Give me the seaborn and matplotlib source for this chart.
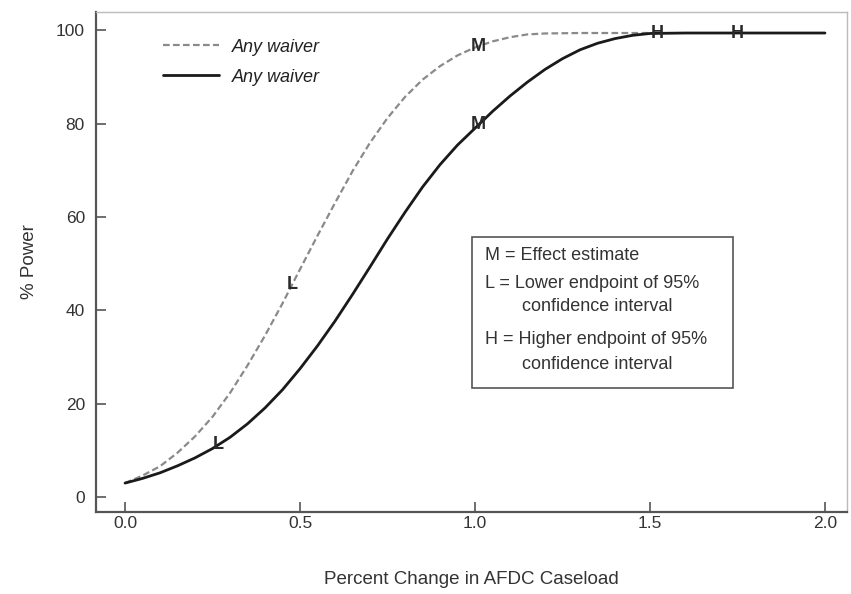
import numpy as np
import pandas as pd
import matplotlib
matplotlib.use("Agg")
import matplotlib.pyplot as plt
import seaborn as sns
from matplotlib.lines import Line2D
from matplotlib.patches import Rectangle

# ---- data ----
x_dashed = [0.0, 0.05, 0.1, 0.15, 0.2, 0.25, 0.3, 0.35, 0.4, 0.45, 0.5, 0.55, 0.6, 0.65,
            0.7, 0.75, 0.8, 0.85, 0.9, 0.95, 1.0, 1.05, 1.1, 1.15, 1.2, 1.3, 1.4, 1.5]
y_dashed = [3.0, 4.6, 6.6, 9.5, 13.0, 17.2, 22.3, 28.2, 34.6, 41.5, 48.8, 56.0, 63.0, 69.8,
            75.9, 81.2, 85.7, 89.4, 92.3, 94.6, 96.3, 97.6, 98.5, 99.1, 99.3, 99.4, 99.4, 99.4]

x_solid = [0.0, 0.05, 0.1, 0.15, 0.2, 0.25, 0.3, 0.35, 0.4, 0.45, 0.5, 0.55, 0.6, 0.65,
           0.7, 0.75, 0.8, 0.85, 0.9, 0.95, 1.0, 1.05, 1.1, 1.15, 1.2, 1.25, 1.3, 1.35,
           1.4, 1.45, 1.5, 1.6, 1.7, 1.8, 1.9, 2.0]
y_solid = [3.0, 4.0, 5.2, 6.7, 8.4, 10.4, 12.8, 15.7, 19.1, 23.0, 27.5, 32.4, 37.7, 43.4,
           49.3, 55.3, 61.0, 66.4, 71.2, 75.4, 79.0, 82.6, 85.9, 88.9, 91.6, 93.9, 95.8, 97.2,
           98.2, 98.9, 99.3, 99.4, 99.4, 99.4, 99.4, 99.4]

# letter markers (L, M, H) positions along x
marker_labels = ["L", "M", "H"]
dashed_marker_x = [0.477, 1.01, 1.52]
solid_marker_x = [0.266, 1.01, 1.75]

legend_labels = ["Any waiver", "Any waiver"]
xticks = [0.0, 0.5, 1.0, 1.5, 2.0]
yticks = [0, 20, 40, 60, 80, 100]
box_lines = ["M = Effect estimate",
             "L = Lower endpoint of 95%",
             "confidence interval",
             "H = Higher endpoint of 95%",
             "confidence interval"]

sns.set_style("white")
plt.rcParams["font.family"] = ["Liberation Sans", "DejaVu Sans"]

fig = plt.figure(figsize=(8.51, 5.94), dpi=100)
ax = fig.add_axes([0.1128, 0.138, 0.8825, 0.8418])

df_d = pd.DataFrame({"x": x_dashed, "y": y_dashed})
df_s = pd.DataFrame({"x": x_solid, "y": y_solid})

sns.lineplot(data=df_d, x="x", y="y", ax=ax, color="#8a8a8a", linewidth=1.6,
             linestyle=(0, (3, 1.5)), zorder=2)
sns.lineplot(data=df_s, x="x", y="y", ax=ax, color="#1a1a1a", linewidth=2.0, zorder=3)

for lab, mx in zip(marker_labels, dashed_marker_x):
    my = float(np.interp(mx, x_dashed, y_dashed))
    ax.text(mx, my, lab, ha="center", va="center", fontsize=13, color="#2a2a2a",
            fontweight="bold", zorder=4)
for lab, mx in zip(marker_labels, solid_marker_x):
    my = float(np.interp(mx, x_solid, y_solid))
    ax.text(mx, my, lab, ha="center", va="center", fontsize=13, color="#2a2a2a",
            fontweight="bold", zorder=4)

ax.set_xlim(-0.083, 2.063)
ax.set_ylim(-3.2, 103.9)
ax.set_xticks(xticks)
ax.set_xticklabels([f"{v:.1f}" for v in xticks])
ax.set_yticks(yticks)
ax.tick_params(bottom=True, left=True, direction="in", length=7, width=1.2,
               colors="#555555", labelsize=12.5, labelcolor="#333333")
ax.tick_params(axis="x", pad=3)
ax.tick_params(axis="y", pad=8)
ax.set_xlabel("Percent Change in AFDC Caseload", fontsize=13.5, color="#333333", labelpad=29)
ax.set_ylabel("% Power", fontsize=13.5, color="#333333", labelpad=13)

for side in ["left", "bottom"]:
    ax.spines[side].set_color("#555555")
    ax.spines[side].set_linewidth(1.6)
for side in ["top", "right"]:
    ax.spines[side].set_color("#bbbbbb")
    ax.spines[side].set_linewidth(1.0)

handles = [Line2D([], [], color="#8a8a8a", linewidth=1.6, linestyle=(0, (3, 1.5))),
           Line2D([], [], color="#1a1a1a", linewidth=2.0)]
leg = ax.legend(handles, legend_labels, loc="upper left", bbox_to_anchor=(0.089, 0.947),
                borderaxespad=0, borderpad=0, frameon=False, handlelength=3.1,
                handletextpad=0.7, labelspacing=0.72,
                prop={"style": "italic", "size": 13})
for t in leg.get_texts():
    t.set_color("#222222")

# text box
ax.add_patch(Rectangle((0.5007, 0.248), 0.3473, 0.302, transform=ax.transAxes,
                       facecolor="white", edgecolor="#555555", linewidth=1.2, zorder=5))
box_y = [0.514, 0.458, 0.412, 0.346, 0.296]
box_x = [0.518, 0.518, 0.567, 0.518, 0.567]
for txt, bx, by in zip(box_lines, box_x, box_y):
    ax.text(bx, by, txt, transform=ax.transAxes, ha="left", va="center",
            fontsize=13, color="#333333", zorder=6)

fig.savefig("out.png", dpi=100)
